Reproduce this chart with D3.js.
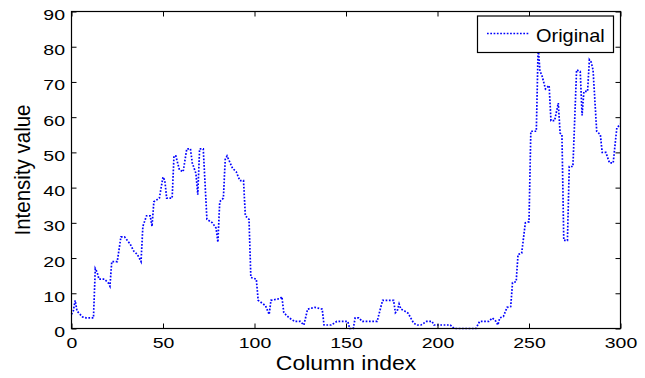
<!DOCTYPE html>
<html><head><meta charset="utf-8">
<script src="https://cdn.jsdelivr.net/npm/d3@7/dist/d3.min.js"></script>
<style>body{margin:0;background:#fff}svg{display:block}</style>
</head><body>
<svg id="c" width="645" height="378"></svg>
<script>
// ---- data ----
const columnIndex = [0,1,2,3,4,6,8,12,13,14,15,18,20,21,22,25,27,29,32,34,36,38,39,41,43,44,45,48,50,51,52,55,56,57,59,61,63,65,66,68,69,70,72,74,77,79,80,81,83,84,85,88,90,92,94,95,97,98,101,102,106,108,109,114,115,116,119,122,125,127,129,133,137,138,142,145,151,152,154,155,157,159,167,170,176,177,178,179,180,182,184,186,187,189,191,194,197,198,207,209,221,223,228,230,232,233,234,236,238,240,241,243,244,246,248,250,251,254,255,256,257,259,261,262,264,266,267,268,269,271,272,274,276,278,279,280,282,283,284,285,287,289,290,292,294,296,298,300];
const intensity   = [4,5,8,5,4.4,3.3,3,3,17,16,14,14,13,12,19,19,26,26,24,22,21,19,29,32,32,29,36,37,43,42,37,37,49,49,45,44.5,51,51,47,44,38,51,51,31,30,28.5,24.5,36,37,48,49,45.5,44.5,42,42,32,31,14.5,14,8,6.5,4,8,8.5,9,4.5,3,2,2,1,5.5,6,5.5,1,1,2,2,0,0,3,3,2,2,8,8,4.5,5,7,5.5,5,4.3,2.4,1.5,1,1,2,2,1,1,0,0,2,2,3,2,1,3,3.4,6,6.2,13,13.3,21,21.4,30,30.3,56,56,80,73,72,68,69,59,59,64,55.5,55,25,25,46,46,73.4,73,60.5,67.3,67.3,76.3,75.6,73.4,56,55,50,50,47,47,57,58];
const xTicks = [0,50,100,150,200,250,300];
const yTicks = [0,10,20,30,40,50,60,70,80,90];
const xTitle = "Column index";
const yTitle = "Intensity value";
const seriesName = "Original";

// ---- drawing ----
const svg = d3.select("#c");
const L = 71.5, R = 620.5, T = 11.5, B = 328.5;
const x = d3.scaleLinear().domain([0,300]).range([L,R]);
const y = d3.scaleLinear().domain([0,90]).range([B,T]);
const FONT = "'Liberation Sans', Arial, sans-serif";

// data line
const pts = columnIndex.map((c,i)=>[c,intensity[i]]);
svg.append("path")
  .datum(pts)
  .attr("fill","none")
  .attr("stroke","#0000ff")
  .attr("stroke-width",1.7)
  .attr("stroke-dasharray","1.7,1.6")
  .attr("d", d3.line().x(d=>x(d[0])).y(d=>y(d[1])));

// axes ticks (inward) on all four sides
function styleAxis(g){ g.select(".domain").remove(); g.selectAll("line").attr("stroke","#000").attr("stroke-width",1); }
const gB = svg.append("g").attr("transform",`translate(0,${B})`)
  .call(d3.axisBottom(x).tickValues(xTicks).tickSizeInner(-5).tickSizeOuter(0).tickFormat(d3.format("d")));
styleAxis(gB);
gB.selectAll("text").attr("y",0).attr("dy",null)
  .attr("font-family",FONT).attr("font-size",15).attr("fill","#000")
  .attr("transform","translate(0,19.5) scale(1.3,1)");
const gT = svg.append("g").attr("transform",`translate(0,${T})`)
  .call(d3.axisTop(x).tickValues(xTicks).tickSizeInner(-5).tickSizeOuter(0).tickFormat(""));
styleAxis(gT);
const gL = svg.append("g").attr("transform",`translate(${L},0)`)
  .call(d3.axisLeft(y).tickValues(yTicks).tickSizeInner(-5).tickSizeOuter(0).tickFormat(d3.format("d")));
styleAxis(gL);
gL.selectAll("text").attr("x",0).attr("dy",null)
  .attr("font-family",FONT).attr("font-size",15).attr("fill","#000")
  .attr("transform","translate(-6.5,8) scale(1.3,1)");
const gR = svg.append("g").attr("transform",`translate(${R},0)`)
  .call(d3.axisRight(y).tickValues(yTicks).tickSizeInner(-5).tickSizeOuter(0).tickFormat(""));
styleAxis(gR);

// box
svg.append("rect").attr("x",L).attr("y",T).attr("width",R-L).attr("height",B-T)
  .attr("fill","none").attr("stroke","#000").attr("stroke-width",1.2);

// titles
svg.append("text").text(xTitle)
  .attr("font-family",FONT).attr("font-size",20.5).attr("text-anchor","middle")
  .attr("transform",`translate(${(L+R)/2},369.5) scale(1.12,1)`);
svg.append("text").text(yTitle)
  .attr("font-family",FONT).attr("font-size",20.5).attr("text-anchor","middle")
  .attr("transform",`translate(29.5,${(T+B)/2}) rotate(-90) scale(1,1.05)`);

// legend
const lg = svg.append("g");
lg.append("rect").attr("x",477.5).attr("y",16).attr("width",136).attr("height",36.5)
  .attr("fill","#fff").attr("stroke","#000").attr("stroke-width",1.2);
lg.append("line").attr("x1",487).attr("x2",529).attr("y1",33.5).attr("y2",33.5)
  .attr("stroke","#0000ff").attr("stroke-width",1.7).attr("stroke-dasharray","1.7,1.6");
lg.append("text").text(seriesName)
  .attr("font-family",FONT).attr("font-size",17.5)
  .attr("transform","translate(536,41.5) scale(1.14,1)");
</script>
</body></html>
